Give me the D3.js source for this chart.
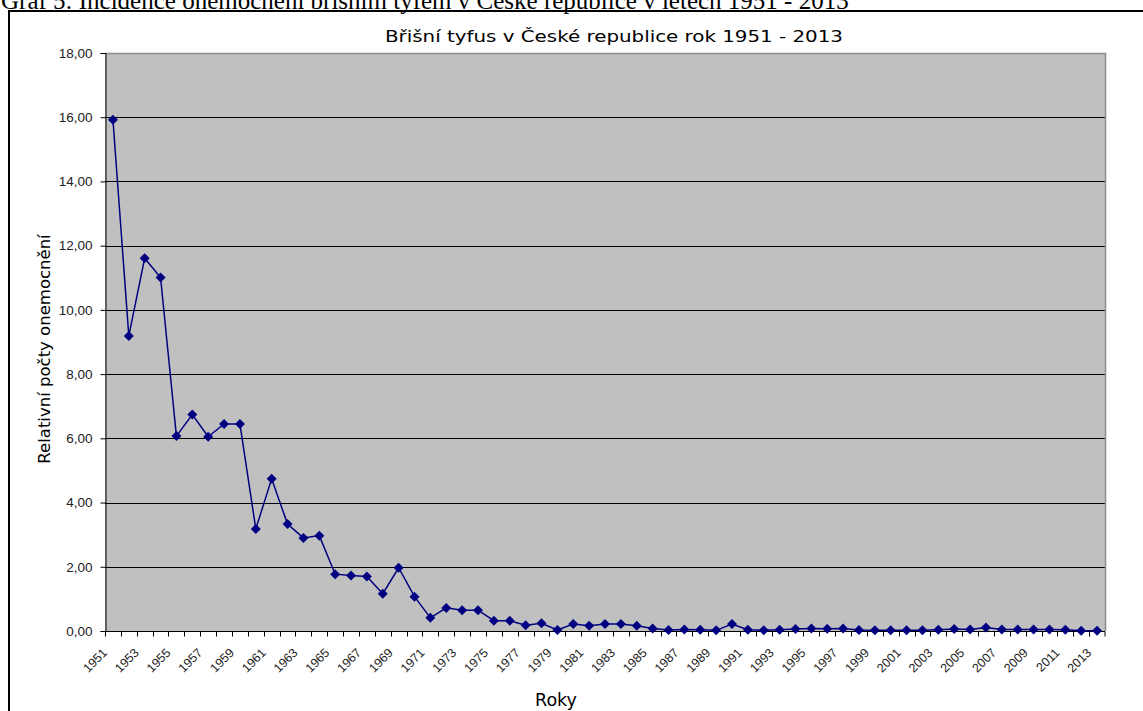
<!DOCTYPE html>
<meta charset="utf-8">
<script src="https://d3js.org/d3.v7.min.js"></script>
<style>
  body { margin: 0; background: #fff; }
</style>
<div id="my_dataviz"></div>
<script>

// years 1951 - 2013
var years = d3.range(1951, 2014);

// relative incidence
var values = [
  15.92, 9.19, 11.61, 11.01, 6.07, 6.74, 6.05, 6.45, 6.45, 3.18,
  4.74, 3.33, 2.90, 2.97, 1.77, 1.73, 1.70, 1.16, 1.97, 1.07,
  0.41, 0.72, 0.65, 0.65, 0.32, 0.32, 0.18, 0.24, 0.03, 0.22,
  0.16, 0.22, 0.22, 0.16, 0.08, 0.03, 0.05, 0.04, 0.02, 0.22,
  0.04, 0.02, 0.04, 0.06, 0.08, 0.07, 0.08, 0.03, 0.02, 0.02,
  0.02, 0.02, 0.04, 0.06, 0.05, 0.11, 0.05, 0.05, 0.05, 0.05,
  0.04, 0.01, 0.01
];

var yTicks = [0, 2, 4, 6, 8, 10, 12, 14, 16, 18];
var xLabels = years.filter(function(d) { return (d - 1951) % 2 == 0; });

var caption = "Graf 5: Incidence onemocnění břišním tyfem v České republice v letech 1951 - 2013";
var chartTitle = "Břišní tyfus v České republice rok 1951 - 2013";
var yTitle = "Relativní počty onemocnění";
var xTitle = "Roky";

var W = 1143, H = 711;
var plot = {left: 105, right: 1105, top: 53, bottom: 631};

var svg = d3.select("#my_dataviz")
  .append("svg")
    .attr("width", W)
    .attr("height", H)
    .style("display", "block");

// caption above the chart (cut off at the top, as in the source)
svg.append("text")
  .attr("x", 1)
  .attr("y", 9)
  .style("font-family", "'Liberation Serif', serif")
  .style("font-size", "25px")
  .style("fill", "#000")
  .text(caption);

// chart frame
svg.append("rect")
  .attr("x", 9)
  .attr("y", 11)
  .attr("width", W + 20)
  .attr("height", H + 20)
  .style("fill", "none")
  .style("stroke", "#000")
  .style("stroke-width", 2);

var x = d3.scaleBand()
  .domain(years)
  .range([plot.left, plot.right])
  .padding(0);

var y = d3.scaleLinear()
  .domain([0, 18])
  .range([plot.bottom, plot.top]);

// plot area
svg.append("rect")
  .attr("x", plot.left)
  .attr("y", plot.top)
  .attr("width", plot.right - plot.left)
  .attr("height", plot.bottom - plot.top)
  .style("fill", "#c0c0c0");

// gridlines
svg.append("g")
  .selectAll("line")
  .data(yTicks.filter(function(d) { return d > 0 && d < 18; }))
  .enter()
  .append("line")
    .attr("x1", plot.left)
    .attr("x2", plot.right)
    .attr("y1", function(d) { return Math.round(y(d)) + 0.5; })
    .attr("y2", function(d) { return Math.round(y(d)) + 0.5; })
    .style("stroke", "#000")
    .style("stroke-width", 1);

// plot border top / right
svg.append("path")
  .attr("d", "M" + plot.left + "," + (plot.top + 0.5) + "H" + (plot.right + 0.5) + "V" + plot.bottom)
  .style("fill", "none")
  .style("stroke", "#8c8c8c")
  .style("stroke-width", 1.5);

// Y axis
var yAxis = svg.append("g")
  .attr("transform", "translate(" + (plot.left + 0.5) + ",0)")
  .call(d3.axisLeft(y)
    .tickValues(yTicks)
    .tickSize(5)
    .tickPadding(8)
    .tickFormat(function(d) { return d3.format(".2f")(d).replace(".", ","); }));
yAxis.select(".domain").style("stroke", "#000");
yAxis.selectAll(".tick line").style("stroke", "#000");
yAxis.selectAll("text")
  .style("font-family", "'Liberation Sans', Arial, sans-serif")
  .style("font-size", "13.5px")
  .style("fill", "#222");

// X axis: ticks on category boundaries
var xAxis = svg.append("g")
  .attr("transform", "translate(0," + (plot.bottom + 0.5) + ")");
xAxis.append("line")
  .attr("x1", plot.left)
  .attr("x2", plot.right)
  .style("stroke", "#000");
xAxis.selectAll(".tk")
  .data(years.concat([2014]))
  .enter()
  .append("line")
    .attr("class", "tk")
    .attr("x1", function(d) { return d == 2014 ? plot.right : Math.round(x(d)) + 0.5; })
    .attr("x2", function(d) { return d == 2014 ? plot.right : Math.round(x(d)) + 0.5; })
    .attr("y1", 0)
    .attr("y2", 5)
    .style("stroke", "#000");
xAxis.selectAll(".lbl")
  .data(xLabels)
  .enter()
  .append("text")
    .attr("class", "lbl")
    .attr("transform", function(d) {
      return "translate(" + (x(d) + x.bandwidth() / 2 - 5) + ",22) rotate(-45)";
    })
    .attr("text-anchor", "end")
    .style("font-family", "'Liberation Sans', Arial, sans-serif")
    .style("font-size", "12.5px")
    .style("fill", "#222")
    .text(function(d) { return d; });

// line
var line = d3.line()
  .x(function(d, i) { return x(years[i]) + x.bandwidth() / 2; })
  .y(function(d) { return y(d); });

svg.append("path")
  .datum(values)
  .attr("d", line)
  .style("fill", "none")
  .style("stroke", "#000080")
  .style("stroke-width", 1.5);

// diamond markers
svg.append("g")
  .selectAll("path")
  .data(values)
  .enter()
  .append("path")
    .attr("transform", function(d, i) {
      return "translate(" + (x(years[i]) + x.bandwidth() / 2) + "," + y(d) + ")";
    })
    .attr("d", "M0,-5L5,0L0,5L-5,0Z")
    .style("fill", "#000080");

// titles
svg.append("text")
  .attr("x", 614)
  .attr("y", 42)
  .attr("text-anchor", "middle")
  .attr("textLength", 458)
  .attr("lengthAdjust", "spacingAndGlyphs")
  .style("font-family", "'DejaVu Sans', Verdana, sans-serif")
  .style("font-size", "16px")
  .style("fill", "#000")
  .text(chartTitle);

svg.append("text")
  .attr("transform", "translate(50,349) rotate(-90)")
  .attr("text-anchor", "middle")
  .style("font-family", "'DejaVu Sans', Verdana, sans-serif")
  .style("font-size", "16.5px")
  .style("fill", "#000")
  .text(yTitle);

svg.append("text")
  .attr("x", 556)
  .attr("y", 706)
  .attr("text-anchor", "middle")
  .style("font-family", "'DejaVu Sans', Verdana, sans-serif")
  .style("font-size", "17.5px")
  .style("fill", "#000")
  .text(xTitle);

</script>
